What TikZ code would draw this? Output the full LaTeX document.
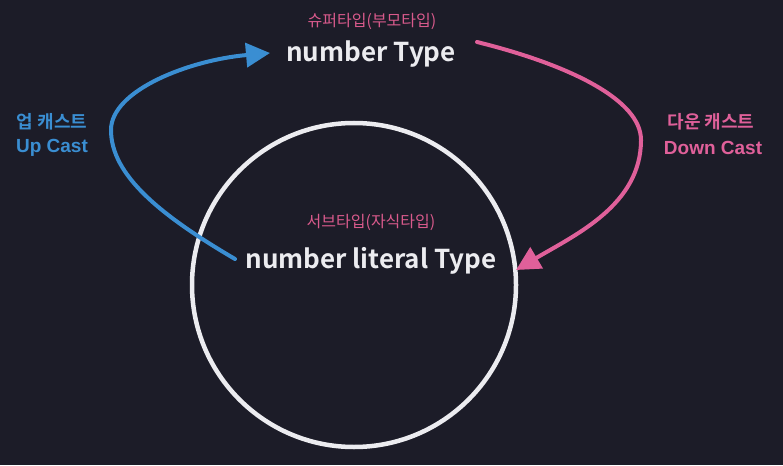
\documentclass[tikz,border=0pt]{standalone}
\usepackage{fontspec}
\setmainfont{Liberation Sans}
\newfontfamily\kr{Noto Sans CJK KR}
\newfontfamily\krb{Noto Sans CJK KR Bold}
\usetikzlibrary{arrows.meta}
\definecolor{bg}{HTML}{1C1C28}
\definecolor{cblue}{HTML}{3A8ED2}
\definecolor{cpink}{HTML}{E0609A}
\definecolor{ctxt}{HTML}{D95A8C}
\definecolor{cwhite}{HTML}{ECECF0}
\tikzset{
  subtitle/.style={text=ctxt,font=\kr\fontsize{16}{18}\selectfont,inner sep=0pt},
  title/.style={text=cwhite,font=\krb\fontsize{26}{30}\selectfont,inner sep=0pt,anchor=base},
  krlabel/.style={font=\krb\fontsize{18}{21}\selectfont,inner sep=0pt},
  enlabel/.style={font=\bfseries\fontsize{19}{22}\selectfont,inner sep=0pt},
  castarrow/.style={line width=4pt,line cap=round,-{Triangle[length=24pt,width=24pt]}}
}
\begin{document}
\begin{tikzpicture}[x=1pt,y=-1pt]
\fill[bg] (0,0) rectangle (783,465);
\useasboundingbox (0,0) rectangle (783,465);
\node[draw=cwhite,line width=4.5pt,circle,minimum size=324pt,inner sep=0pt] (set) at (354,285) {};
\node[subtitle] (supl) at (372,21) {슈퍼타입(부모타입)};
\node[title] (sup) at (371,62) {number Type};
\node[subtitle] (subl) at (371,222) {서브타입(자식타입)};
\node[title] (sub) at (371,268) {number literal Type};
\node[krlabel,text=cblue] (upk) at (52,122) {업 캐스트};
\node[enlabel,text=cblue] (upe) at (52,148) {Up Cast};
\node[krlabel,text=cpink] (dnk) at (711,122) {다운 캐스트};
\node[enlabel,text=cpink] (dne) at (713,148) {Down Cast};
\coordinate (ubeg) at (235,259);
\coordinate (uend) at (270,53);
\coordinate (dbeg) at (477,42);
\coordinate (dend) at (516,270);
\draw[castarrow,cblue] (ubeg) .. controls (160,215) and (111,175) .. (111,130)
  .. controls (111,90) and (190,60) .. (uend);
\draw[castarrow,cpink] (dbeg) .. controls (570,65) and (641,100) .. (641,140)
  .. controls (641,205) and (575,235) .. (dend);
\end{tikzpicture}
\end{document}
